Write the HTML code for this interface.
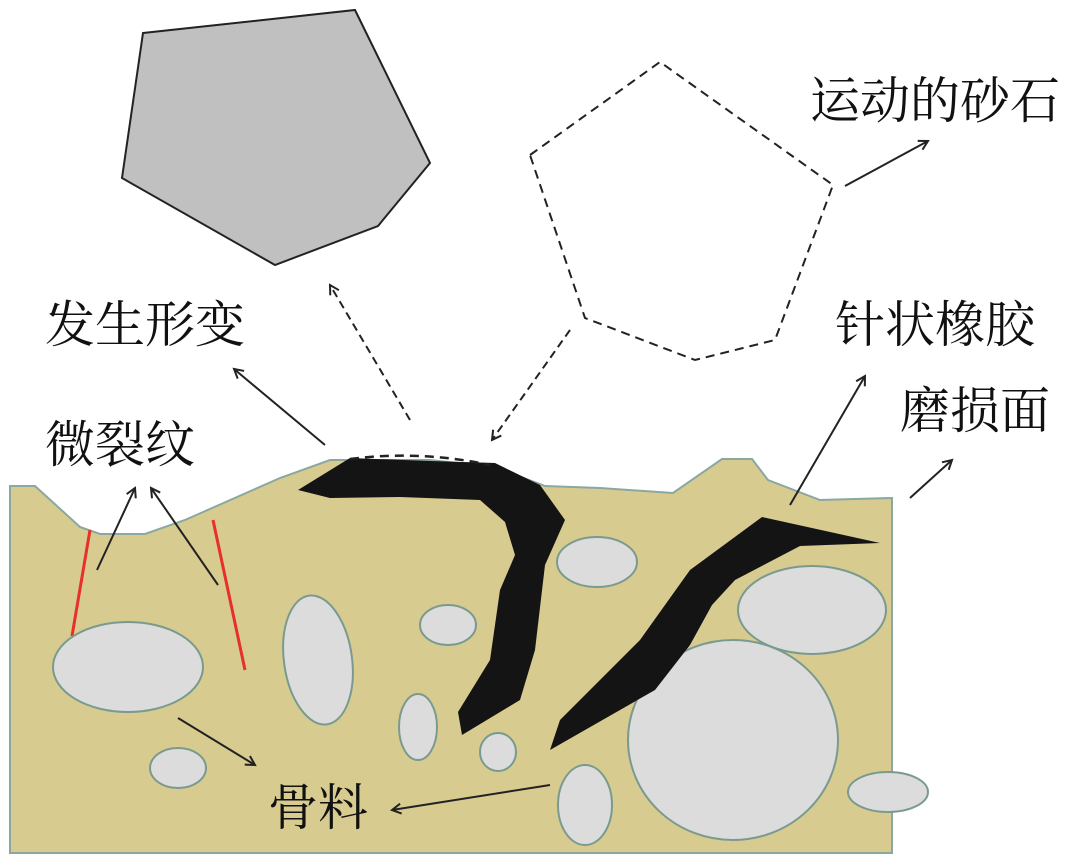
<!DOCTYPE html>
<html><head><meta charset="utf-8"><style>
html,body{margin:0;padding:0;background:#fff;}
svg{display:block}
text{font-family:"Liberation Serif","Noto Serif CJK SC",serif;font-size:50px;fill:#111}
</style></head><body>
<svg width="1082" height="859" viewBox="0 0 1082 859" xmlns="http://www.w3.org/2000/svg">
<defs>
<marker id="ah" markerWidth="12" markerHeight="12" refX="10" refY="6" orient="auto" markerUnits="userSpaceOnUse">
<path d="M1,1 L10,6 L1,11" fill="none" stroke="#222" stroke-width="2"/>
</marker>
</defs>
<path d="M10,486 L35,486 L80,527 L100,534 L145,534 L185,520 L280,478 L330,460 L430,460 L495,467 L545,486 L600,488 L673,493 L722,459 L752,459 L768,480 L820,500 L892,498 L892,853 L10,853 Z" fill="#d8cb8f" stroke="#8aa8a0" stroke-width="2"/>
<line x1="90" y1="530" x2="72" y2="636" stroke="#e8302a" stroke-width="3"/>
<line x1="213" y1="520" x2="245" y2="670" stroke="#e8302a" stroke-width="3"/>
<g fill="#dcdcdc" stroke="#7a9a90" stroke-width="2">
<ellipse cx="128" cy="667" rx="75" ry="45"/>
<ellipse cx="318" cy="660" rx="34" ry="65" transform="rotate(-8 318 660)"/>
<ellipse cx="448" cy="625" rx="28" ry="20"/>
<ellipse cx="597" cy="562" rx="40" ry="25"/>
<ellipse cx="812" cy="610" rx="74" ry="44"/>
<ellipse cx="418" cy="727" rx="19" ry="33"/>
<ellipse cx="498" cy="752" rx="18" ry="19"/>
<ellipse cx="178" cy="768" rx="28" ry="20"/>
<ellipse cx="585" cy="805" rx="27" ry="40"/>
<ellipse cx="733" cy="740" rx="105" ry="100"/>
<ellipse cx="888" cy="792" rx="40" ry="20"/>
</g>
<path d="M298,490 L350,458 L430,461 L495,463 L540,485 L565,520 L545,565 L535,650 L520,700 L462,735 L458,712 L490,660 L500,590 L515,555 L505,522 L480,500 L400,497 L330,498 Z" fill="#141414"/>
<path d="M550,750 L560,720 L640,640 L690,570 L762,517 L880,543 L800,546 L735,580 L712,605 L690,645 L655,690 Z" fill="#141414"/>
<path d="M350,459 Q420,450 490,465" fill="none" stroke="#222" stroke-width="2.5" stroke-dasharray="9,6"/>
<polygon points="143,33 355,10 430,163 378,226 275,265 122,178" fill="#c0c0c0" stroke="#222" stroke-width="2"/>
<polygon points="530,155 660,62 833,185 775,340 695,360 585,318" fill="none" stroke="#222" stroke-width="2" stroke-dasharray="9,6"/>
<g stroke="#222" stroke-width="2" fill="none" marker-end="url(#ah)">
<line x1="410" y1="420" x2="330" y2="285" stroke-dasharray="8,5"/>
<line x1="570" y1="330" x2="492" y2="440" stroke-dasharray="8,5"/>
<line x1="325" y1="445" x2="234" y2="369"/>
<line x1="845" y1="186" x2="928" y2="141"/>
<line x1="790" y1="505" x2="865" y2="376"/>
<line x1="910" y1="498" x2="952" y2="460"/>
<line x1="97" y1="570" x2="135" y2="488"/>
<line x1="218" y1="585" x2="151" y2="488"/>
<line x1="178" y1="718" x2="255" y2="765"/>
<line x1="550" y1="785" x2="392" y2="810"/>
</g>
<text x="810" y="118">运动的砂石</text>
<text x="45" y="342">发生形变</text>
<text x="45" y="462">微裂纹</text>
<text x="835" y="342">针状橡胶</text>
<text x="900" y="428">磨损面</text>
<text x="268" y="825">骨料</text>
</svg>
</body></html>
